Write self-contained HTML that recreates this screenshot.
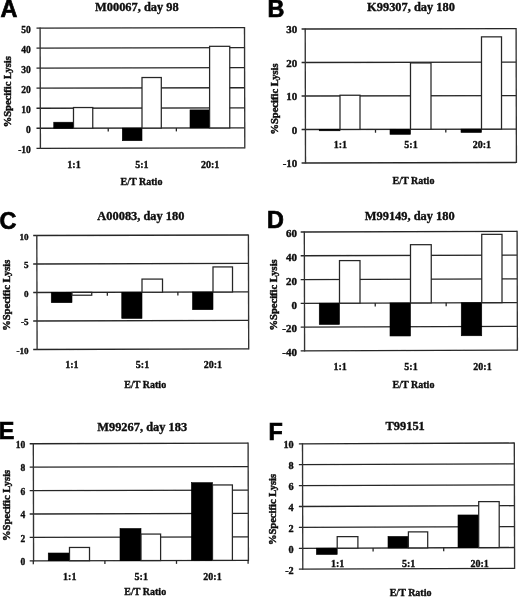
<!DOCTYPE html>
<html><head><meta charset="utf-8"><title>Figure</title>
<style>
html,body{margin:0;padding:0;background:#fff;}
body{width:520px;height:597px;overflow:hidden;}
svg{display:block;}
text{font-family:"Liberation Serif",serif;font-weight:bold;fill:#0a0a0a;stroke:#0a0a0a;stroke-width:0.33px;}
.pl{font-family:"Liberation Sans",sans-serif;font-weight:bold;font-size:23.4px;fill:#000;stroke:#000;stroke-width:0.7px;}
.tt{font-size:12.4px;text-anchor:middle;}
.tk{font-size:9.5px;text-anchor:end;}
.xl{font-size:10px;text-anchor:middle;}
.at{font-size:10px;text-anchor:middle;}
.yt{font-size:9.6px;text-anchor:middle;stroke-width:0.4px;}
.ln{stroke:#262626;stroke-width:1.3;fill:none;}
.lv{stroke:#333;stroke-width:1.35;fill:none;}
.wb{fill:#fff;stroke:#262626;stroke-width:1.25;}
.bb{fill:#000;stroke:#000;stroke-width:0.6;}
</style></head><body>
<svg width="520" height="597" viewBox="0 0 520 597">
<defs><filter id="bl" x="0" y="0" width="520" height="597" filterUnits="userSpaceOnUse"><feGaussianBlur stdDeviation="0.38"/></filter><filter id="bs" x="0" y="0" width="520" height="597" filterUnits="userSpaceOnUse"><feGaussianBlur stdDeviation="0.22"/></filter></defs>
<rect width="520" height="597" fill="#fff"/>

<g filter="url(#bs)">
<line class="ln" x1="36.5" y1="28.11" x2="244.5" y2="27.6"/>
<line class="ln" x1="36.5" y1="48.14" x2="244.5" y2="47.65"/>
<line class="ln" x1="36.5" y1="68.17" x2="244.5" y2="67.7"/>
<line class="ln" x1="36.5" y1="88.21" x2="244.5" y2="87.75"/>
<line class="ln" x1="36.5" y1="108.24" x2="244.5" y2="107.8"/>
<line class="ln" x1="36.5" y1="128.27" x2="244.5" y2="127.85"/>
<line class="ln" x1="36.5" y1="148.31" x2="244.5" y2="147.9"/>
<line class="lv" x1="40.1" y1="27.5" x2="40.4" y2="148.9"/>
<line class="lv" x1="244.5" y1="27" x2="244.8" y2="148.5"/>
<line class="ln" x1="108.23" y1="128.13" x2="108.23" y2="131.53"/>
<line class="ln" x1="176.37" y1="127.99" x2="176.37" y2="131.39"/>
<rect class="bb" x="53.75" y="122.21" width="19.75" height="6.01"/>
<rect class="wb" x="73.5" y="107.54" width="19.25" height="20.64"/>
<rect class="bb" x="122.3" y="128.08" width="19.7" height="12.63"/>
<rect class="wb" x="142" y="77.53" width="19.3" height="50.51"/>
<rect class="bb" x="190" y="109.9" width="19.6" height="18.04"/>
<rect class="wb" x="209.6" y="46.31" width="20.15" height="81.6"/>
<line class="ln" x1="301.6" y1="29.01" x2="516.1" y2="28.6"/>
<line class="ln" x1="301.6" y1="62.51" x2="516.1" y2="62.08"/>
<line class="ln" x1="301.6" y1="96.01" x2="516.1" y2="95.55"/>
<line class="ln" x1="301.6" y1="129.51" x2="516.1" y2="129.03"/>
<line class="ln" x1="301.6" y1="163.01" x2="516.1" y2="162.5"/>
<line class="lv" x1="305.2" y1="28.4" x2="305.5" y2="163.6"/>
<line class="lv" x1="516.1" y1="28" x2="516.4" y2="163.1"/>
<line class="ln" x1="375.5" y1="129.34" x2="375.5" y2="132.74"/>
<line class="ln" x1="445.8" y1="129.18" x2="445.8" y2="132.58"/>
<rect class="bb" x="319.25" y="129.44" width="20.75" height="1.34"/>
<rect class="wb" x="340" y="95.23" width="20" height="34.16"/>
<rect class="bb" x="390" y="129.29" width="20.5" height="5.02"/>
<rect class="wb" x="410.5" y="62.94" width="20.5" height="66.3"/>
<rect class="bb" x="461" y="129.13" width="20.5" height="3.35"/>
<rect class="wb" x="481.5" y="36.85" width="20" height="92.23"/>
<line class="ln" x1="33.2" y1="235.51" x2="248.4" y2="235"/>
<line class="ln" x1="33.2" y1="264.01" x2="248.4" y2="263.45"/>
<line class="ln" x1="33.2" y1="292.51" x2="248.4" y2="291.9"/>
<line class="ln" x1="33.2" y1="321.01" x2="248.4" y2="320.35"/>
<line class="ln" x1="33.2" y1="349.51" x2="248.4" y2="348.8"/>
<line class="lv" x1="36.8" y1="234.9" x2="37.1" y2="350.1"/>
<line class="lv" x1="248.4" y1="234.4" x2="248.7" y2="349.4"/>
<line class="ln" x1="107.33" y1="292.3" x2="107.33" y2="295.7"/>
<line class="ln" x1="177.87" y1="292.1" x2="177.87" y2="295.5"/>
<rect class="bb" x="51.25" y="292.43" width="20.75" height="10.26"/>
<rect class="wb" x="72" y="292.37" width="19.75" height="2.85"/>
<rect class="bb" x="121.75" y="292.23" width="20.25" height="26.2"/>
<rect class="wb" x="142" y="279.08" width="20.5" height="13.1"/>
<rect class="bb" x="192.5" y="292.03" width="20.5" height="17.65"/>
<rect class="wb" x="213" y="266.93" width="19.5" height="25.04"/>
<line class="ln" x1="300.7" y1="232.01" x2="517.1" y2="231.3"/>
<line class="ln" x1="300.7" y1="255.77" x2="517.1" y2="255.06"/>
<line class="ln" x1="300.7" y1="279.53" x2="517.1" y2="278.82"/>
<line class="ln" x1="300.7" y1="303.29" x2="517.1" y2="302.58"/>
<line class="ln" x1="300.7" y1="327.05" x2="517.1" y2="326.34"/>
<line class="ln" x1="300.7" y1="350.81" x2="517.1" y2="350.1"/>
<line class="lv" x1="304.3" y1="231.4" x2="304.6" y2="351.4"/>
<line class="lv" x1="517.1" y1="230.7" x2="517.4" y2="350.7"/>
<line class="ln" x1="375.23" y1="303.05" x2="375.23" y2="306.45"/>
<line class="ln" x1="446.17" y1="302.81" x2="446.17" y2="306.21"/>
<rect class="bb" x="319.25" y="303.2" width="20.25" height="21.27"/>
<rect class="wb" x="339.5" y="260.6" width="20.5" height="42.53"/>
<rect class="bb" x="390" y="302.96" width="20.5" height="33.03"/>
<rect class="wb" x="410.5" y="244.68" width="20.75" height="58.21"/>
<rect class="bb" x="461.25" y="302.73" width="20.5" height="33.03"/>
<rect class="wb" x="481.75" y="234.35" width="20.25" height="68.31"/>
<line class="ln" x1="29.7" y1="443.76" x2="248.1" y2="443.2"/>
<line class="ln" x1="29.7" y1="467.17" x2="248.1" y2="466.62"/>
<line class="ln" x1="29.7" y1="490.58" x2="248.1" y2="490.04"/>
<line class="ln" x1="29.7" y1="513.99" x2="248.1" y2="513.46"/>
<line class="ln" x1="29.7" y1="537.4" x2="248.1" y2="536.88"/>
<line class="ln" x1="29.7" y1="560.81" x2="248.1" y2="560.3"/>
<line class="lv" x1="33.3" y1="443.15" x2="33.6" y2="561.4"/>
<line class="lv" x1="248.1" y1="442.6" x2="248.4" y2="560.9"/>
<line class="ln" x1="33.3" y1="560.8" x2="33.3" y2="564.2"/>
<line class="ln" x1="104.9" y1="560.63" x2="104.9" y2="564.03"/>
<line class="ln" x1="176.5" y1="560.47" x2="176.5" y2="563.87"/>
<line class="ln" x1="248.1" y1="560.3" x2="248.1" y2="563.7"/>
<rect class="bb" x="48.25" y="553.01" width="21.25" height="7.73"/>
<rect class="wb" x="69.5" y="547.46" width="20" height="13.23"/>
<rect class="bb" x="120" y="528.5" width="21" height="32.08"/>
<rect class="wb" x="141" y="534.07" width="19.6" height="26.46"/>
<rect class="bb" x="191.4" y="482.66" width="21.1" height="77.75"/>
<rect class="wb" x="212.5" y="484.95" width="19.9" height="75.41"/>
<line class="ln" x1="298.9" y1="443.81" x2="514.3" y2="443"/>
<line class="ln" x1="298.9" y1="464.71" x2="514.3" y2="463.9"/>
<line class="ln" x1="298.9" y1="485.61" x2="514.3" y2="484.8"/>
<line class="ln" x1="298.9" y1="506.51" x2="514.3" y2="505.7"/>
<line class="ln" x1="298.9" y1="527.41" x2="514.3" y2="526.6"/>
<line class="ln" x1="298.9" y1="548.31" x2="514.3" y2="547.5"/>
<line class="ln" x1="298.9" y1="569.21" x2="514.3" y2="568.4"/>
<line class="lv" x1="302.5" y1="443.2" x2="302.8" y2="569.8"/>
<line class="lv" x1="514.3" y1="442.4" x2="514.6" y2="569"/>
<line class="ln" x1="373.1" y1="548.03" x2="373.1" y2="551.43"/>
<line class="ln" x1="443.7" y1="547.77" x2="443.7" y2="551.17"/>
<rect class="bb" x="316.4" y="548.21" width="20.8" height="6.27"/>
<rect class="wb" x="337.2" y="536.63" width="20.7" height="11.5"/>
<rect class="bb" x="388" y="536.44" width="20.4" height="11.5"/>
<rect class="wb" x="408.4" y="531.88" width="19.3" height="15.99"/>
<rect class="bb" x="458" y="514.97" width="20.7" height="32.71"/>
<rect class="wb" x="478.7" y="501.62" width="20.5" height="45.98"/>
</g>
<g filter="url(#bl)">
<text class="pl" x="0.4" y="17.4">A</text>
<text class="tt" x="136.9" y="11">M00067, day 98</text>
<text class="tk" style="font-size:9.5px" transform="translate(30.8 32.6) scale(1 1)">50</text>
<text class="tk" style="font-size:9.5px" transform="translate(30.8 52.63) scale(1 1)">40</text>
<text class="tk" style="font-size:9.5px" transform="translate(30.8 72.67) scale(1 1)">30</text>
<text class="tk" style="font-size:9.5px" transform="translate(30.8 92.7) scale(1 1)">20</text>
<text class="tk" style="font-size:9.5px" transform="translate(30.8 112.73) scale(1 1)">10</text>
<text class="tk" style="font-size:9.5px" transform="translate(30.8 132.77) scale(1 1)">0</text>
<text class="tk" style="font-size:9.5px" transform="translate(30.8 152.8) scale(1 1)">-10</text>
<text class="xl" x="74" y="167.6">1:1</text>
<text class="xl" x="141.9" y="167.6">5:1</text>
<text class="xl" x="210.1" y="167.6">20:1</text>
<text class="at" x="141.5" y="185">E/T Ratio</text>
<text class="yt" transform="translate(10.9 91.75) rotate(-90) scale(1.1 1)">%Specific Lysis</text>
<text class="pl" x="267.6" y="17">B</text>
<text class="tt" x="411" y="10.6">K99307, day 180</text>
<text class="tk" style="font-size:9.5px" transform="translate(297.2 33) scale(1.15 1)">30</text>
<text class="tk" style="font-size:9.5px" transform="translate(297.2 66.5) scale(1.15 1)">20</text>
<text class="tk" style="font-size:9.5px" transform="translate(297.2 100) scale(1.15 1)">10</text>
<text class="tk" style="font-size:9.5px" transform="translate(297.2 133.5) scale(1.15 1)">0</text>
<text class="tk" style="font-size:9.5px" transform="translate(297.2 167) scale(1.15 1)">-10</text>
<text class="xl" x="340.3" y="148.2">1:1</text>
<text class="xl" x="411" y="148.2">5:1</text>
<text class="xl" x="481.9" y="148.2">20:1</text>
<text class="at" x="413.5" y="183.8">E/T Ratio</text>
<text class="yt" transform="translate(277.5 99) rotate(-90) scale(1.1 1)">%Specific Lysis</text>
<text class="pl" x="-0.4" y="228.7">C</text>
<text class="tt" x="140.9" y="219.5">A00083, day 180</text>
<text class="tk" style="font-size:9.1px" transform="translate(28.5 239.8) scale(1 1)">10</text>
<text class="tk" style="font-size:9.1px" transform="translate(28.5 268.3) scale(1 1)">5</text>
<text class="tk" style="font-size:9.1px" transform="translate(28.5 296.8) scale(1 1)">0</text>
<text class="tk" style="font-size:9.1px" transform="translate(28.5 325.3) scale(1 1)">-5</text>
<text class="tk" style="font-size:9.1px" transform="translate(28.5 353.8) scale(1 1)">-10</text>
<text class="xl" x="71.9" y="368">1:1</text>
<text class="xl" x="142.5" y="368">5:1</text>
<text class="xl" x="212.8" y="368">20:1</text>
<text class="at" x="145.25" y="387.7">E/T Ratio</text>
<text class="yt" transform="translate(9.8 295.2) rotate(-90) scale(1.1 1)">%Specific Lysis</text>
<text class="pl" x="266.9" y="228">D</text>
<text class="tt" x="409.75" y="219.5">M99149, day 180</text>
<text class="tk" style="font-size:9.5px" transform="translate(296.9 237.3) scale(1.15 1)">60</text>
<text class="tk" style="font-size:9.5px" transform="translate(296.9 261.06) scale(1.15 1)">40</text>
<text class="tk" style="font-size:9.5px" transform="translate(296.9 284.82) scale(1.15 1)">20</text>
<text class="tk" style="font-size:9.5px" transform="translate(296.9 308.58) scale(1.15 1)">0</text>
<text class="tk" style="font-size:9.5px" transform="translate(296.9 332.34) scale(1.15 1)">-20</text>
<text class="tk" style="font-size:9.5px" transform="translate(296.9 356.1) scale(1.15 1)">-40</text>
<text class="xl" x="340.1" y="370.2">1:1</text>
<text class="xl" x="411" y="370.2">5:1</text>
<text class="xl" x="482.5" y="370.2">20:1</text>
<text class="at" x="413.5" y="388.3">E/T Ratio</text>
<text class="yt" transform="translate(276.8 294.9) rotate(-90) scale(1.1 1)">%Specific Lysis</text>
<text class="pl" x="-1.3" y="439.3">E</text>
<text class="tt" x="142.2" y="430.8">M99267, day 183</text>
<text class="tk" style="font-size:9.5px" transform="translate(25.2 448.05) scale(1 1)">10</text>
<text class="tk" style="font-size:9.5px" transform="translate(25.2 471.46) scale(1 1)">8</text>
<text class="tk" style="font-size:9.5px" transform="translate(25.2 494.87) scale(1 1)">6</text>
<text class="tk" style="font-size:9.5px" transform="translate(25.2 518.28) scale(1 1)">4</text>
<text class="tk" style="font-size:9.5px" transform="translate(25.2 541.69) scale(1 1)">2</text>
<text class="tk" style="font-size:9.5px" transform="translate(25.2 565.1) scale(1 1)">0</text>
<text class="xl" x="69.75" y="579.7">1:1</text>
<text class="xl" x="141.25" y="579.7">5:1</text>
<text class="xl" x="212.5" y="579.7">20:1</text>
<text class="at" x="145.25" y="595.4">E/T Ratio</text>
<text class="yt" transform="translate(9.6 505.4) rotate(-90) scale(1.1 1)">%Specific Lysis</text>
<text class="pl" x="268.5" y="439.8">F</text>
<text class="tt" x="405.2" y="429.8">T99151</text>
<text class="tk" style="font-size:9.5px" transform="translate(293.7 448.2) scale(1.08 1)">10</text>
<text class="tk" style="font-size:9.5px" transform="translate(293.7 469.1) scale(1.08 1)">8</text>
<text class="tk" style="font-size:9.5px" transform="translate(293.7 490) scale(1.08 1)">6</text>
<text class="tk" style="font-size:9.5px" transform="translate(293.7 510.9) scale(1.08 1)">4</text>
<text class="tk" style="font-size:9.5px" transform="translate(293.7 531.8) scale(1.08 1)">2</text>
<text class="tk" style="font-size:9.5px" transform="translate(293.7 552.7) scale(1.08 1)">0</text>
<text class="tk" style="font-size:9.5px" transform="translate(293.7 573.6) scale(1.08 1)">-2</text>
<text class="xl" x="337.6" y="566.9">1:1</text>
<text class="xl" x="408.6" y="566.9">5:1</text>
<text class="xl" x="479.7" y="566.9">20:1</text>
<text class="at" x="410.6" y="595.6">E/T Ratio</text>
<text class="yt" transform="translate(276 509.5) rotate(-90) scale(1.1 1)">%Specific Lysis</text>
</g>
</svg>
</body></html>
